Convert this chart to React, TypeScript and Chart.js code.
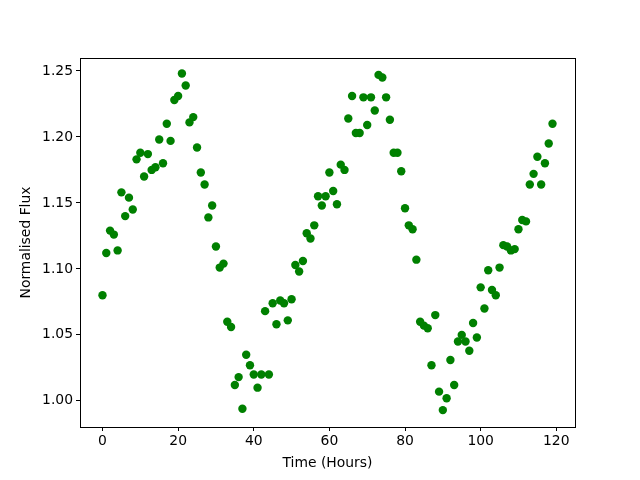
import React, { useEffect, useRef } from "react";
import { Chart, registerables } from "chart.js";

Chart.register(...registerables);

const fluxValues: number[] = [
  1.080, 1.112, 1.129, 1.126, 1.114, 1.158, 1.140, 1.154, 1.145, 1.183,
  1.188, 1.170, 1.187, 1.175, 1.177, 1.198, 1.180, 1.210, 1.197, 1.228,
  1.231, 1.248, 1.239, 1.211, 1.215, 1.192, 1.173, 1.164, 1.139, 1.148,
  1.117, 1.101, 1.104, 1.060, 1.056, 1.012, 1.018, 0.994, 1.035, 1.027,
  1.020, 1.010, 1.020, 1.068, 1.020, 1.074, 1.058, 1.076, 1.074, 1.061,
  1.077, 1.103, 1.098, 1.106, 1.127, 1.123, 1.133, 1.155, 1.148, 1.155,
  1.173, 1.159, 1.149, 1.179, 1.175, 1.214, 1.231, 1.203, 1.203, 1.230,
  1.209, 1.230, 1.220, 1.247, 1.245, 1.230, 1.213, 1.188, 1.188, 1.174,
  1.146, 1.133, 1.130, 1.107, 1.060, 1.057, 1.055, 1.027, 1.065, 1.007,
  0.993, 1.002, 1.031, 1.012, 1.045, 1.050, 1.045, 1.038, 1.059, 1.048,
  1.086, 1.070, 1.099, 1.084, 1.080, 1.101, 1.118, 1.117, 1.114, 1.115,
  1.130, 1.137, 1.136, 1.164, 1.172, 1.185, 1.164, 1.180, 1.195, 1.210,
];
const timeHours: number[] = fluxValues.map((_, i) => i);
const xTicks: number[] = [0, 20, 40, 60, 80, 100, 120];
const yTicks: number[] = [1.0, 1.05, 1.1, 1.15, 1.2, 1.25];

const FONT = "'DejaVu Sans', sans-serif";

const frame = {
  id: "frame",
  afterDraw(chart: any) {
    const { ctx, chartArea } = chart;
    ctx.save();
    ctx.strokeStyle = "#000";
    ctx.lineWidth = 1;
    ctx.strokeRect(
      Math.round(chartArea.left) + 0.5,
      Math.round(chartArea.top) + 0.5,
      Math.round(chartArea.right - chartArea.left),
      Math.round(chartArea.bottom - chartArea.top)
    );
    ctx.restore();
  },
};

export default function App() {
  const ref = useRef<HTMLCanvasElement | null>(null);
  useEffect(() => {
    document.body.style.margin = "0";
    const canvas = ref.current!;
    const chart = new Chart(canvas, {
      type: "scatter",
      data: {
        datasets: [
          {
            data: timeHours.map((t, i) => ({ x: t, y: fluxValues[i] })),
            backgroundColor: "#008000",
            borderColor: "#008000",
            borderWidth: 0,
            pointRadius: 4.2,
            pointHoverRadius: 4.2,
          },
        ],
      },
      options: {
        animation: false,
        responsive: false,
        maintainAspectRatio: false,
        layout: { padding: { left: 18, right: 65, top: 58, bottom: 4 } },
        plugins: { legend: { display: false }, tooltip: { enabled: false } },
        scales: {
          x: {
            type: "linear",
            min: -5.95,
            max: 124.95,
            afterBuildTicks: (s: any) => {
              s.ticks = xTicks.map((v) => ({ value: v }));
            },
            afterFit: (s: any) => {
              s.height = 49;
            },
            grid: {
              drawOnChartArea: false,
              tickLength: 4,
              tickColor: "#000",
              color: "#000",
            },
            border: { display: false },
            ticks: {
              color: "#000",
              font: { family: FONT, size: 13.9 },
              padding: 2,
              maxRotation: 0,
              autoSkip: false,
              callback: (v: any) => String(v),
            },
            title: {
              display: true,
              text: "Time (Hours)",
              color: "#000",
              font: { family: FONT, size: 13.9 },
              padding: { top: 4, bottom: 4 },
            },
          },
          y: {
            type: "linear",
            min: 0.9802,
            max: 1.2598,
            afterBuildTicks: (s: any) => {
              s.ticks = yTicks.map((v) => ({ value: v }));
            },
            afterFit: (s: any) => {
              s.width = 62;
            },
            grid: {
              drawOnChartArea: false,
              tickLength: 4,
              tickColor: "#000",
              color: "#000",
            },
            border: { display: false },
            ticks: {
              color: "#000",
              font: { family: FONT, size: 13.9 },
              padding: 3,
              autoSkip: false,
              callback: (v: any) => Number(v).toFixed(2),
            },
            title: {
              display: true,
              text: "Normalised Flux",
              color: "#000",
              font: { family: FONT, size: 13.9 },
              padding: { top: 0, bottom: 0 },
            },
          },
        },
      },
      plugins: [frame],
    });
    return () => chart.destroy();
  }, []);
  return (
    <div style={{ width: 640, height: 480 }}>
      <canvas ref={ref} width={640} height={480} style={{ width: 640, height: 480, display: "block" }} />
    </div>
  );
}
